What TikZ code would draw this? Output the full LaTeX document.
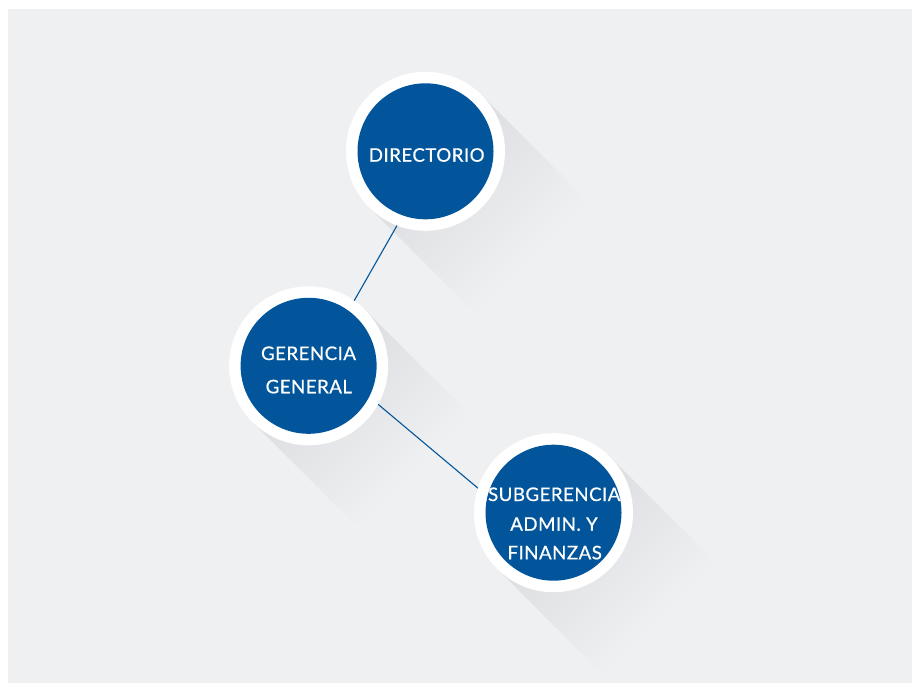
\documentclass[tikz,border=0pt]{standalone}
\usepackage{fontspec}
\newfontfamily\lblfont{Lato}[FakeBold=0.6, LetterSpace=2.5]
\definecolor{bg}{HTML}{EFF0F2}
\definecolor{shd}{HTML}{DCDDE0}
\definecolor{nodeblue}{HTML}{02559A}
\begin{document}
\begin{tikzpicture}[x=1pt,y=-1pt,
  orgnode/.style={circle, fill=white, minimum size=159pt, inner sep=0pt, outer sep=0pt,
    path picture={\fill[nodeblue] (path picture bounding box.center) circle[radius=68pt];}},
  lbl/.style={text=white, font=\lblfont\fontsize{18.7}{20}\selectfont, anchor=base, inner sep=0pt},
  link/.style={draw=nodeblue, line width=1.1pt}]
\useasboundingbox (0,0) rectangle (915,685);
\fill[white] (0,0) rectangle (915,685);
\fill[bg] (8,9) rectangle (912,683);
\begin{scope}
\clip (8,9) rectangle (912,683);
\foreach \cx/\cy in {425.5/151.3, 308.6/365.8, 553.5/512.7} {
  \shade[transform canvas={shift={(\cx,\cy)}, rotate=-45}, left color=shd, right color=bg] (0,-79.5) rectangle (150,79.5);
}
\end{scope}
\node[orgnode] (dir) at (425.5,151.3) {};
\node[orgnode] (ger) at (308.6,365.8) {};
\node[orgnode] (sub) at (553.5,512.7) {};
\draw[link] (dir.249.8) -- (ger.55.7);
\draw[link] (ger.331.5) -- (sub.162.5);
\node[lbl] (dirt) at (426.7,161.7) {DIRECTORIO};
\node[lbl] (gert1) at (308.5,360) {GERENCIA};
\node[lbl] (gert2) at (308.8,393.3) {GENERAL};
\node[lbl] (subt1) at (554.2,501) {SUBGERENCIA};
\node[lbl] (subt2) at (554,530.7) {ADMIN. Y};
\node[lbl] (subt3) at (554.7,559.3) {FINANZAS};
\end{tikzpicture}
\end{document}
